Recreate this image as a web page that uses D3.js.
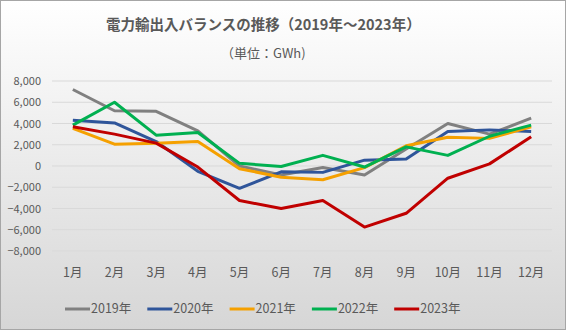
<!DOCTYPE html>
<html>
<head>
<meta charset="utf-8">
<script src="https://cdn.jsdelivr.net/npm/d3@7"></script>
<style>
  body { margin: 0; background: #fff; }
  text { font-family: "Noto Sans CJK JP", "Noto Sans", sans-serif; fill: #595959; }
</style>
</head>
<body>
<script>
const months = ['1月','2月','3月','4月','5月','6月','7月','8月','9月','10月','11月','12月'];
const years = ['2019年','2020年','2021年','2022年','2023年'];
const colors = ['#808080', '#2f559a', '#f5a000', '#00b050', '#c00000'];
const v2019 = [7200, 5200, 5150, 3300, 0, -850, -150, -850, 1600, 4000, 3000, 4500];
const v2020 = [4300, 4050, 2300, -500, -2100, -550, -600, 550, 650, 3250, 3400, 3250];
const v2021 = [3550, 2050, 2150, 2300, -250, -1050, -1300, -150, 1900, 2700, 2600, 3700];
const v2022 = [3850, 6000, 2900, 3150, 250, -50, 1000, -100, 1800, 1000, 2800, 3850];
const v2023 = [3700, 3000, 2150, -100, -3250, -4000, -3250, -5750, -4450, -1150, 200, 2750];
const yTicks = [8000, 6000, 4000, 2000, 0, -2000, -4000, -6000, -8000];
const series = [v2019, v2020, v2021, v2022, v2023];

const width = 566, height = 330;
const svg = d3.select('body').append('svg')
  .attr('width', width)
  .attr('height', height);

const defs = svg.append('defs');
const grad = defs.append('linearGradient')
  .attr('id', 'bg').attr('x1', 0).attr('y1', 0).attr('x2', 0).attr('y2', 1);
grad.append('stop').attr('offset', '0%').attr('stop-color', '#ffffff');
grad.append('stop').attr('offset', '100%').attr('stop-color', '#d6d6d6');

svg.append('rect')
  .attr('x', 0.5).attr('y', 0.5)
  .attr('width', width - 1).attr('height', height - 1)
  .attr('fill', 'url(#bg)')
  .attr('stroke', '#a6a6a6');

const x = d3.scaleBand().domain(months).range([52, 552]);
const y = d3.scaleLinear().domain([-8000, 8000]).range([251, 81]);

// gridlines
svg.append('g')
  .selectAll('line')
  .data(yTicks)
  .enter().append('line')
    .attr('x1', 52).attr('x2', 552)
    .attr('y1', d => y(d)).attr('y2', d => y(d))
    .attr('stroke', '#d9d9d9')
    .attr('stroke-width', 1);

// y axis labels
const yAxis = svg.append('g')
  .attr('transform', 'translate(41,0)')
  .call(d3.axisLeft(y).tickValues(yTicks).tickSize(0).tickPadding(0).tickFormat(d3.format(',')));
yAxis.select('.domain').remove();
yAxis.selectAll('text')
  .style('font-size', '11px')
  .attr('fill', '#595959');

// x axis labels
const xAxis = svg.append('g')
  .attr('transform', 'translate(0,268)')
  .call(d3.axisBottom(x).tickSize(0).tickPadding(0));
xAxis.select('.domain').remove();
xAxis.selectAll('text')
  .style('font-size', '12.5px')
  .attr('fill', '#595959');

const line = d3.line()
  .x((d, i) => x(months[i]) + x.bandwidth() / 2)
  .y(d => y(d));

svg.append('g')
  .selectAll('path')
  .data(series)
  .enter().append('path')
    .attr('d', line)
    .attr('fill', 'none')
    .attr('stroke', (d, i) => colors[i])
    .attr('stroke-width', 3)
    .attr('stroke-linejoin', 'round');

// title
svg.append('text')
  .attr('x', 106).attr('y', 30)
  .style('font-size', '14.5px')
  .style('font-weight', 'bold')
  .text('電力輸出入バランスの推移（2019年～2023年）');
svg.append('text')
  .attr('x', 221).attr('y', 58)
  .style('font-size', '13px')
  .text('（単位：GWh)');

// legend
const legend = svg.append('g')
  .selectAll('g')
  .data(years)
  .enter().append('g')
    .attr('transform', (d, i) => `translate(${65 + i * 82.3},309)`);
legend.append('line')
  .attr('x1', 0).attr('x2', 25)
  .attr('stroke', (d, i) => colors[i])
  .attr('stroke-width', 3);
legend.append('text')
  .attr('x', 26).attr('dy', '0.35em')
  .style('font-size', '12.5px')
  .text(d => d);
</script>
</body>
</html>
